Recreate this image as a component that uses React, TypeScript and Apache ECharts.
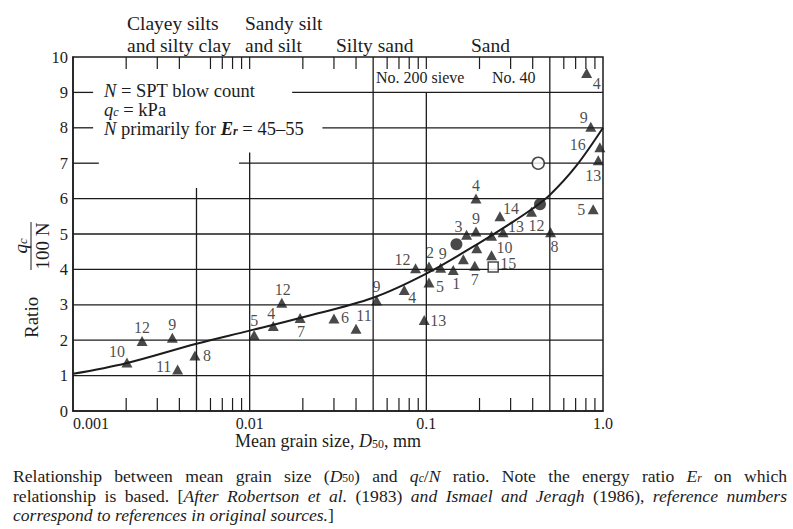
import React, { useEffect, useRef } from "react";
import * as echarts from "echarts";

const W = 793;
const H = 529;
const INK = "#1c1c1c";
const FONT = '"Liberation Serif", "Times New Roman", serif';

// ---------- data ----------
const xTickLabels = ["0.001", "0.01", "0.1", "1.0"];

// trend curve
const curveX = [0.001, 0.002, 0.005, 0.01, 0.02, 0.05, 0.1, 0.2, 0.3, 0.4, 0.5, 0.7, 1.0];
const curveY = [1.05, 1.35, 1.9, 2.27, 2.65, 3.2, 3.88, 4.75, 5.3, 5.72, 6.1, 6.9, 8.0];

// filled triangles (reference numbers as labels)
const triX = [0.00202, 0.00246, 0.00365, 0.00391, 0.0049, 0.0106, 0.0136, 0.0152, 0.0193, 0.03, 0.04, 0.0523, 0.075, 0.0973, 0.0869, 0.1035, 0.1205, 0.1035, 0.142, 0.169, 0.191, 0.191, 0.188, 0.193, 0.162, 0.234, 0.261, 0.272, 0.234, 0.394, 0.505, 0.88, 0.808, 0.853, 0.96, 0.94];
const triY = [1.37, 1.98, 2.07, 1.17, 1.57, 2.15, 2.4, 3.06, 2.63, 2.61, 2.32, 3.12, 3.42, 2.57, 4.03, 4.08, 4.05, 3.63, 3.98, 4.98, 5.07, 6.0, 4.1, 4.6, 4.29, 4.95, 5.5, 5.05, 4.4, 5.63, 5.05, 5.7, 9.55, 8.03, 7.45, 7.08];
const triRef = ["10", "12", "9", "11", "8", "5", "4", "12", "7", "6", "11", "9", "4", "13", "12", "2", "9", "5", "1", "3", "9", "4", "7", "", "", "", "14", "13", "10", "12", "8", "5", "4", "9", "16", "13"];

// filled circles
const dotX = [0.148, 0.44];
const dotY = [4.71, 5.84];
// open circle
const ringX = [0.43];
const ringY = [7.0];
// open square
const squareX = [0.239];
const squareY = [4.07];
const squareRef = ["15"];

// grid segments [x1, y1, x2, y2]
const gridSegments = [
  [0.001, 1, 1, 1], [0.001, 2, 1, 2], [0.001, 3, 1, 3], [0.001, 4, 1, 4], [0.001, 5, 1, 5], [0.001, 6, 1, 6],
  [0.001, 7, 0.0014, 7], [0.0087, 7, 1, 7],
  [0.001, 8, 0.0013, 8], [0.0258, 8, 1, 8],
  [0.001, 9, 0.0013, 9], [0.0174, 9, 1, 9],
  [0.005, 0, 0.005, 6.3], [0.01, 0, 0.01, 7.3], [0.05, 0, 0.05, 10], [0.1, 0, 0.1, 9], [0.5, 0, 0.5, 10],
];
const bottomTicks = [0.002, 0.003, 0.004, 0.006, 0.007, 0.008, 0.009, 0.02, 0.03, 0.04, 0.06, 0.07, 0.08, 0.09, 0.2, 0.3, 0.4, 0.6, 0.7, 0.8, 0.9];
const topTicks = [0.002, 0.003, 0.004, 0.006, 0.007, 0.008, 0.009, 0.01, 0.02, 0.03, 0.04, 0.06, 0.07, 0.08, 0.09, 0.1, 0.2, 0.3, 0.4, 0.6, 0.7, 0.8, 0.9];

// label offsets (style) for triangle labels, px
const triLabelOffset = [
  [-10, -11], [0, -13], [0, -13], [-14, -3], [12, 0], [0, -14], [-2, -13], [1, -13], [1, 14], [11, -1], [8, -13], [0, -14], [8, 8], [14, 0],
  [-13, -9], [1, -14], [2, -14], [11, 4], [3, 13], [-8, -8], [0, -13], [0, -13], [0, 14], [0, 0], [0, 0], [0, 0],
  [11, -8], [13, -6], [13, -8], [5, 14], [4, 14], [-12, 0], [10, 11], [-7, -9], [-22, -3], [-5, 15],
];

// ---------- text layout helpers ----------
type St = { fontStyle: string; fontWeight: string; k: number; dy: number };
const STYLES: Record<string, St> = {
  n: { fontStyle: "normal", fontWeight: "normal", k: 1, dy: 0 },
  i: { fontStyle: "italic", fontWeight: "normal", k: 1, dy: 0 },
  bi: { fontStyle: "italic", fontWeight: "bold", k: 1, dy: 0 },
  s: { fontStyle: "normal", fontWeight: "normal", k: 0.66, dy: 0.16 },
  is: { fontStyle: "italic", fontWeight: "normal", k: 0.66, dy: 0.16 },
  bis: { fontStyle: "italic", fontWeight: "bold", k: 0.66, dy: 0.16 },
};
let mctx: CanvasRenderingContext2D | null = null;
function measure(text: string, st: St, size: number) {
  if (!mctx) mctx = document.createElement("canvas").getContext("2d");
  mctx!.font = `${st.fontStyle} ${st.fontWeight} ${size}px ${FONT}`;
  return mctx!.measureText(text).width;
}
function textRun(tokens: [string, string][], x0: number, y: number, size: number, opts: { justify?: number; align?: string } = {}) {
  const els: any[] = [];
  const natural = tokens.reduce((w, [t, s]) => w + measure(t, STYLES[s], size * STYLES[s].k), 0);
  let x = opts.align === "center" ? x0 - natural / 2 : x0;
  const spaces = tokens.reduce((c, [t]) => c + (t.match(/ /g) || []).length, 0);
  const extra = opts.justify && spaces ? Math.max(0, (opts.justify - natural) / spaces) : 0;
  for (const [t, key] of tokens) {
    const st = STYLES[key];
    const fs = size * st.k;
    const pieces = extra ? t.split(/( )/) : [t];
    for (const p of pieces) {
      if (!p) continue;
      const w = measure(p, st, fs);
      if (p === " ") {
        x += w + extra;
        continue;
      }
      els.push({
        type: "text",
        x,
        y: y + st.dy * size,
        silent: true,
        style: { text: p, fontSize: fs, fontFamily: FONT, fontStyle: st.fontStyle, fontWeight: st.fontWeight, fill: INK, align: "left", verticalAlign: "middle" },
      });
      x += w;
    }
  }
  return els;
}

function buildOption(): any {
  const graphic: any[] = [
    // header soil types
    ...textRun([["Clayey silts", "n"]], 127, 23, 19.5),
    ...textRun([["and silty clay", "n"]], 127, 45, 19.5),
    ...textRun([["Sandy silt", "n"]], 245, 23, 19.5),
    ...textRun([["and silt", "n"]], 245, 45, 19.5),
    ...textRun([["Silty sand", "n"]], 336, 45, 19.5),
    ...textRun([["Sand", "n"]], 471, 45, 19.5),
    // sieve box
    ...textRun([["No. 200 sieve", "n"]], 376, 77, 16),
    ...textRun([["No. 40", "n"]], 492, 77, 16),
    // legend notes
    ...textRun([["N", "i"], [" = SPT blow count", "n"]], 104, 91, 18.5),
    ...textRun([["q", "i"], ["c", "is"], [" = kPa", "n"]], 104, 109.5, 18.5),
    ...textRun([["N", "i"], [" primarily for ", "n"], ["E", "bi"], ["r", "bis"], [" = 45–55", "n"]], 104, 128.5, 18.5),
    // x axis name
    ...textRun([["Mean grain size, ", "n"], ["D", "i"], ["50", "s"], [", mm", "n"]], 328, 441, 18, { align: "center" }),
    // y axis name (rotated)
    {
      type: "group",
      x: 31,
      y: 338,
      rotation: Math.PI / 2,
      children: [
        ...textRun([["Ratio", "n"]], 0, 0, 19),
        ...textRun([["q", "i"], ["c", "is"]], 92, -11, 19, { align: "center" }),
        { type: "line", shape: { x1: 68, y1: 0, x2: 116, y2: 0 }, style: { stroke: INK, lineWidth: 1 } },
        ...textRun([["100 N", "n"]], 92, 11, 19, { align: "center" }),
      ],
    },
    // caption
    ...textRun(
      [["Relationship between mean grain size (", "n"], ["D", "i"], ["50", "s"], [") and ", "n"], ["q", "i"], ["c", "is"], ["/", "n"], ["N", "i"], [" ratio. Note the energy ratio ", "n"], ["E", "i"], ["r", "is"], [" on which", "n"]],
      13, 476, 17.6, { justify: 774 }
    ),
    ...textRun(
      [["relationship is based. [", "n"], ["After Robertson et al.", "i"], [" (1983) ", "n"], ["and Ismael and Jeragh", "i"], [" (1986), ", "n"], ["reference numbers", "i"]],
      13, 495.5, 17.6, { justify: 774 }
    ),
    ...textRun([["correspond to references in original sources.", "i"], ["]", "n"]], 13, 514.5, 17.6),
  ];

  const segRender = (_p: any, api: any) => {
    const a = api.coord([api.value(0), api.value(1)]);
    const b = api.coord([api.value(2), api.value(3)]);
    return { type: "line", shape: { x1: a[0], y1: a[1], x2: b[0], y2: b[1] }, style: { stroke: INK, lineWidth: 1.3 } };
  };
  const tickRender = (len: number) => (_p: any, api: any) => {
    const a = api.coord([api.value(0), api.value(1)]);
    return { type: "line", shape: { x1: a[0], y1: a[1], x2: a[0], y2: a[1] + len }, style: { stroke: INK, lineWidth: 1.2 } };
  };

  const labelBase = { show: true, position: "inside", color: INK, fontFamily: FONT, fontSize: 16 };

  return {
    animation: false,
    backgroundColor: "#ffffff",
    grid: { left: 73, right: 190, top: 57, bottom: 118, show: true, borderColor: INK, borderWidth: 1.5, backgroundColor: "transparent" },
    xAxis: {
      type: "log",
      logBase: 10,
      min: 0.001,
      max: 1,
      axisLine: { show: true, lineStyle: { color: INK, width: 1.5 } },
      axisTick: { show: false },
      minorTick: { show: false },
      splitLine: { show: false },
      axisLabel: {
        color: INK,
        fontFamily: FONT,
        fontSize: 16,
        margin: 4,
        alignMinLabel: "left",
        formatter: (v: number) => xTickLabels[Math.round(Math.log10(v)) + 3] ?? "",
      },
    },
    yAxis: {
      type: "value",
      min: 0,
      max: 10,
      interval: 1,
      axisLine: { show: true, lineStyle: { color: INK, width: 1.5 } },
      axisTick: { show: false },
      splitLine: { show: false },
      axisLabel: { color: INK, fontFamily: FONT, fontSize: 16.5, margin: 5 },
    },
    graphic,
    series: [
      {
        type: "custom",
        renderItem: segRender,
        data: gridSegments,
        encode: { x: [0, 2], y: [1, 3] },
        silent: true,
        z: 1,
      },
      {
        type: "custom",
        renderItem: tickRender(-13),
        data: bottomTicks.map((x) => [x, 0]),
        encode: { x: 0, y: 1 },
        silent: true,
        z: 1,
      },
      {
        type: "custom",
        renderItem: tickRender(12),
        data: topTicks.map((x) => [x, 10]),
        encode: { x: 0, y: 1 },
        silent: true,
        z: 1,
      },
      {
        type: "line",
        data: curveX.map((x, i) => [x, curveY[i]]),
        smooth: 0.35,
        symbol: "none",
        lineStyle: { color: INK, width: 2 },
        z: 3,
      },
      {
        type: "scatter",
        symbol: "triangle",
        symbolSize: [11, 10],
        itemStyle: { color: INK },
        z: 4,
        data: triX.map((x, i) => ({
          value: [x, triY[i]],
          label: { ...labelBase, show: triRef[i] !== "", formatter: triRef[i], offset: triLabelOffset[i] },
        })),
      },
      {
        type: "scatter",
        symbol: "circle",
        symbolSize: 12,
        itemStyle: { color: INK },
        z: 4,
        data: dotX.map((x, i) => [x, dotY[i]]),
      },
      {
        type: "scatter",
        symbol: "circle",
        symbolSize: 12,
        itemStyle: { color: "#ffffff", borderColor: INK, borderWidth: 1.5 },
        z: 4,
        data: ringX.map((x, i) => [x, ringY[i]]),
      },
      {
        type: "scatter",
        symbol: "rect",
        symbolSize: 10,
        itemStyle: { color: "#ffffff", borderColor: INK, borderWidth: 1.5 },
        z: 4,
        data: squareX.map((x, i) => ({
          value: [x, squareY[i]],
          label: { ...labelBase, formatter: squareRef[i], offset: [15, -3] },
        })),
      },
    ],
  };
}

export default function App() {
  const ref = useRef<HTMLDivElement>(null);
  useEffect(() => {
    const chart = echarts.init(ref.current!, null, { renderer: "svg" });
    chart.setOption(buildOption());
    return () => chart.dispose();
  }, []);
  return <div ref={ref} style={{ position: "fixed", left: 0, top: 0, width: W, height: H, background: "#ffffff" }} />;
}
